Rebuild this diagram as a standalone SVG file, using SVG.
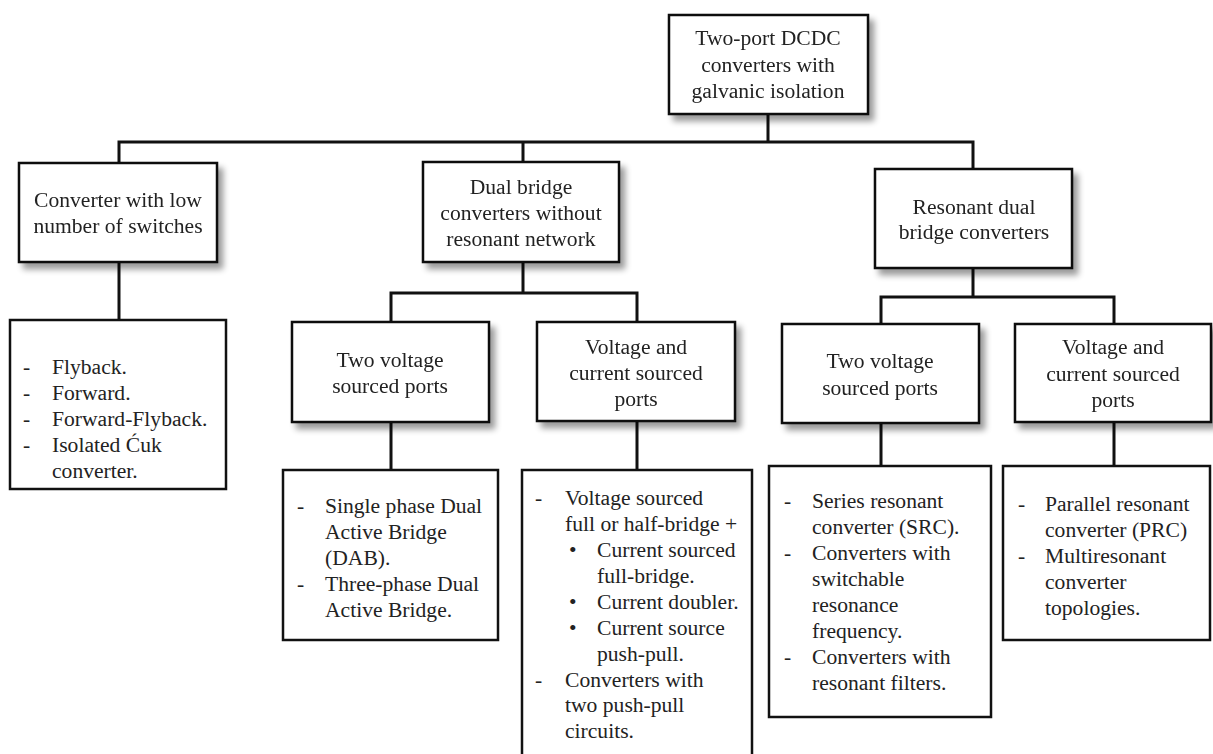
<svg xmlns="http://www.w3.org/2000/svg" width="1213" height="754" viewBox="0 0 1213 754">
<style>
.box{fill:#fff;stroke:#111;stroke-width:2.5}
.node{filter:url(#sh)}
.t{font-family:"Liberation Serif","Times New Roman",serif;font-size:21.6px;fill:#222}
.c{text-anchor:middle}
.ln{stroke:#111;stroke-width:3;fill:none;stroke-linecap:square}
</style>
<defs>
<filter id="sh" x="-10%" y="-10%" width="130%" height="140%">
<feGaussianBlur in="SourceAlpha" stdDeviation="3"/>
<feOffset dx="5" dy="6" result="b"/>
<feComponentTransfer><feFuncA type="linear" slope="0.4"/></feComponentTransfer>
<feMerge><feMergeNode/><feMergeNode in="SourceGraphic"/></feMerge>
</filter>
</defs>
<rect width="1213" height="754" fill="#fff"/>
<g id="connectors">
<path class="ln" d="M768 114V142M119 142H973M119 142V163M523 142V162M973 142V169"/>
<path class="ln" d="M119 262V320"/>
<path class="ln" d="M523 262V293M391 293H637M391 293V322M637 293V322M391 422V470M637 421V470"/>
<path class="ln" d="M973 268V297M881 297H1114M881 297V324M1114 297V324M881 423V466M1114 422V466"/>
</g>
<g id="root" class="node"><rect class="box" x="669" y="15" width="199" height="99"/>
<text class="t c" x="768" y="45">Two-port DCDC</text><text class="t c" x="768" y="72">converters with</text><text class="t c" x="768" y="98">galvanic isolation</text></g>
<g id="lowSwitch" class="node"><rect class="box" x="19" y="163" width="198" height="99"/>
<text class="t c" x="118" y="207">Converter with low</text><text class="t c" x="118" y="233">number of switches</text></g>
<g id="dualBridge" class="node"><rect class="box" x="423" y="162" width="196" height="100"/>
<text class="t c" x="521" y="194">Dual bridge</text><text class="t c" x="521" y="220">converters without</text><text class="t c" x="521" y="246">resonant network</text></g>
<g id="resonant" class="node"><rect class="box" x="875" y="169" width="197" height="99"/>
<text class="t c" x="974" y="214">Resonant dual</text><text class="t c" x="974" y="239">bridge converters</text></g>
<g id="dbTwoVoltage" class="node"><rect class="box" x="292" y="322" width="197" height="100"/>
<text class="t c" x="390" y="367">Two voltage</text><text class="t c" x="390" y="393">sourced ports</text></g>
<g id="dbVoltCurr" class="node"><rect class="box" x="537" y="322" width="198" height="99"/>
<text class="t c" x="636" y="354">Voltage and</text><text class="t c" x="636" y="380">current sourced</text><text class="t c" x="636" y="406">ports</text></g>
<g id="resTwoVoltage" class="node"><rect class="box" x="782" y="324" width="197" height="99"/>
<text class="t c" x="880" y="368">Two voltage</text><text class="t c" x="880" y="395">sourced ports</text></g>
<g id="resVoltCurr" class="node"><rect class="box" x="1015" y="324" width="196" height="98"/>
<text class="t c" x="1113" y="354">Voltage and</text><text class="t c" x="1113" y="381">current sourced</text><text class="t c" x="1113" y="407">ports</text></g>
<g id="leafLow"><rect class="box" x="10" y="320" width="216" height="169"/>
<g class="t"><text x="23" y="374">-</text><text x="52" y="374">Flyback.</text>
<text x="23" y="400">-</text><text x="52" y="400">Forward.</text>
<text x="23" y="426">-</text><text x="52" y="426">Forward-Flyback.</text>
<text x="23" y="452">-</text><text x="52" y="452">Isolated Ćuk</text>
<text x="52" y="478">converter.</text></g></g>
<g id="leafDbTwo"><rect class="box" x="283" y="470" width="215" height="170"/>
<g class="t"><text x="297" y="513">-</text><text x="325" y="513">Single phase Dual</text>
<text x="325" y="539">Active Bridge</text>
<text x="325" y="565">(DAB).</text>
<text x="297" y="591">-</text><text x="325" y="591">Three-phase Dual</text>
<text x="325" y="617">Active Bridge.</text></g></g>
<g id="leafDbVC"><rect class="box" x="522" y="470" width="230" height="300"/>
<g class="t"><text x="535" y="505">-</text><text x="565" y="505">Voltage sourced</text>
<text x="565" y="531">full or half-bridge +</text>
<text x="569" y="557">•</text><text x="597" y="557">Current sourced</text>
<text x="597" y="583">full-bridge.</text>
<text x="569" y="609">•</text><text x="597" y="609">Current doubler.</text>
<text x="569" y="635">•</text><text x="597" y="635">Current source</text>
<text x="597" y="661">push-pull.</text>
<text x="535" y="687">-</text><text x="565" y="687">Converters with</text>
<text x="565" y="712">two push-pull</text>
<text x="565" y="738">circuits.</text></g></g>
<g id="leafResTwo"><rect class="box" x="769" y="466" width="222" height="251"/>
<g class="t"><text x="784" y="508">-</text><text x="812" y="508">Series resonant</text>
<text x="812" y="534">converter (SRC).</text>
<text x="784" y="560">-</text><text x="812" y="560">Converters with</text>
<text x="812" y="586">switchable</text>
<text x="812" y="612">resonance</text>
<text x="812" y="638">frequency.</text>
<text x="784" y="664">-</text><text x="812" y="664">Converters with</text>
<text x="812" y="690">resonant filters.</text></g></g>
<g id="leafResVC"><rect class="box" x="1003" y="466" width="207" height="174"/>
<g class="t"><text x="1018" y="511">-</text><text x="1045" y="511">Parallel resonant</text>
<text x="1045" y="537">converter (PRC)</text>
<text x="1018" y="563">-</text><text x="1045" y="563">Multiresonant</text>
<text x="1045" y="589">converter</text>
<text x="1045" y="615">topologies.</text></g></g>
</svg>
